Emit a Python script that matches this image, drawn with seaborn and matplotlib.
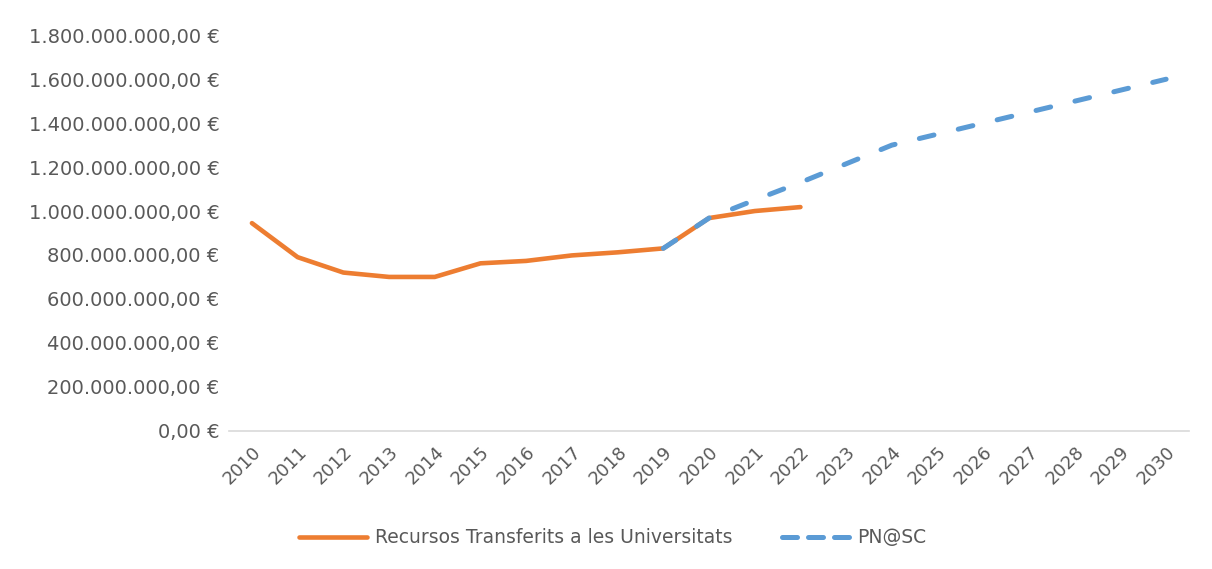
import pandas as pd
import matplotlib.pyplot as plt
import seaborn as sns
from matplotlib.ticker import FuncFormatter

# Data (euros)
years_real = list(range(2010, 2023))
recursos = [945e6, 790e6, 720e6, 700e6, 700e6, 762e6, 773e6, 798e6, 812e6,
            830e6, 968e6, 1000e6, 1018e6]

years_pn = list(range(2019, 2031))
pn_sc = [830e6, 968e6, 1050e6, 1130e6, 1215e6, 1300e6, 1350e6, 1400e6,
         1450e6, 1500e6, 1550e6, 1600e6]

all_years = list(range(2010, 2031))
y_ticks = [0, 200e6, 400e6, 600e6, 800e6, 1000e6, 1200e6, 1400e6, 1600e6, 1800e6]

df_real = pd.DataFrame({'year': years_real, 'value': recursos})
df_pn = pd.DataFrame({'year': years_pn, 'value': pn_sc})

sns.set_style('white')
plt.rcParams['font.family'] = ['DejaVu Sans']

text_color = '#595959'
orange = '#ED7D31'
blue = '#5B9BD5'


def euro_fmt(v, pos):
    s = f'{v:,.2f}'
    s = s.replace(',', 'X').replace('.', ',').replace('X', '.')
    return s + ' €'


fig = plt.figure(figsize=(12.12, 5.69), dpi=100)
ax = fig.add_axes([0.189, 0.243, 0.792, 0.695])

sns.lineplot(data=df_real, x='year', y='value', ax=ax, color=orange,
             linewidth=3.3, label='Recursos Transferits a les Universitats')
sns.lineplot(data=df_pn, x='year', y='value', ax=ax, color=blue,
             linewidth=3.6, label='PN@SC')
ax.lines[0].set_solid_capstyle('round')
ax.lines[1].set_dashes([3.0, 5.0])
ax.lines[1].set_dash_capstyle('round')

ax.set_xlim(2009.5, 2030.5)
ax.set_ylim(0, 1800e6)
ax.set_xticks(all_years)
ax.set_xticklabels([str(y) for y in all_years], rotation=45, ha='right',
                   rotation_mode='anchor')
ax.set_yticks(y_ticks)
ax.yaxis.set_major_formatter(FuncFormatter(euro_fmt))
ax.tick_params(axis='both', length=0, labelsize=14, colors=text_color)
ax.tick_params(axis='x', pad=9, labelsize=13)
ax.tick_params(axis='y', pad=7)
ax.set_xlabel('')
ax.set_ylabel('')

for side in ['top', 'right', 'left']:
    ax.spines[side].set_visible(False)
ax.spines['bottom'].set_color('#D9D9D9')
ax.spines['bottom'].set_linewidth(1.2)

leg = ax.legend(loc='center', bbox_to_anchor=(0.40, -0.271), ncol=2,
                frameon=False, fontsize=13.5, handlelength=3.6,
                handletextpad=0.45, columnspacing=2.6,
                labelcolor=text_color)
leg.get_lines()[0].set_solid_capstyle('round')
leg.get_lines()[1].set_dashes([3.0, 2.2])
leg.get_lines()[1].set_dash_capstyle('round')

fig.savefig('out.png', dpi=100, facecolor='white')
